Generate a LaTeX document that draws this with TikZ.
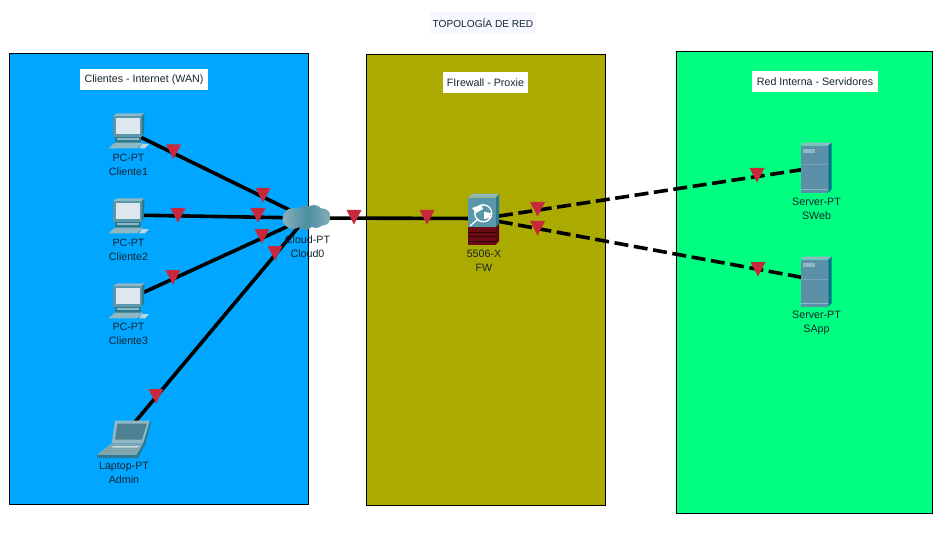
\documentclass[tikz,border=0pt]{standalone}
\usepackage{fontspec}
\setmainfont{Liberation Sans}
\definecolor{zoneblue}{HTML}{00A6FF}
\definecolor{zoneolive}{HTML}{ABAA00}
\definecolor{zonegreen}{HTML}{00FF80}
\definecolor{pduRed}{HTML}{C8283C}
\definecolor{txt}{HTML}{15252F}
\definecolor{devMid}{HTML}{5B97AB}
\definecolor{devDark}{HTML}{2D7A90}
\definecolor{devLight}{HTML}{8FB8C4}
\definecolor{srvFront}{HTML}{5B90A8}
\definecolor{srvSide}{HTML}{0E6C90}
\definecolor{brick}{HTML}{6E0A12}
\definecolor{screenTone}{HTML}{DCE8EE}
\tikzset{
  x=0.75pt,y=-0.75pt,
  zone/.style={draw=black,line width=0.6pt},
  zonelabel/.style={fill=white,font=\fontsize{8}{10}\selectfont,text=txt,inner sep=0pt,minimum height=15.75pt,anchor=center},
  devlabel/.style={font=\fontsize{8}{10.5}\selectfont,text=txt,align=center,inner sep=0pt,anchor=center},
  port/.style={inner sep=0pt,minimum size=0pt,outer sep=0pt},
  link/.style={line width=2.7pt,draw=black},
  dashlink/.style={line width=2.7pt,draw=black,dash pattern=on 10.5pt off 4.2pt,dash phase=2.6pt},
  pdu/.pic={\fill[pduRed] (-7.5,-7)--(7.5,-7)--(0,7.5)--cycle;},
  pcicon/.pic={
    \fill[devLight] (5.3,4)--(9,1.3)--(36.5,1.3)--(33.7,4)--cycle;
    \fill[devDark] (33.7,4)--(36.5,1.3)--(36,21)--(33.7,25)--cycle;
    \fill[devMid] (5.3,4) rectangle (33.7,25);
    \fill[screenTone] (7.8,6.2) rectangle (31.5,21.8);
    \fill[devDark] (7,25) rectangle (33,30.7);
    \fill[devLight] (9,26.3) rectangle (31,27.8);
    \fill[devLight] (0.3,36.3)--(7,30.7)--(35,30.7)--(29,36.3)--cycle;
    \fill[devLight!60!white] (31,36.3)--(34,32)--(41,32)--(37,36.3)--cycle;
  },
  srvicon/.pic={
    \fill[devLight] (0,3)--(2.3,0)--(30.7,0)--(27.3,3)--cycle;
    \fill[srvSide] (27.3,3)--(30.7,0)--(30.7,46.5)--(27.3,50)--cycle;
    \fill[srvFront] (0,3) rectangle (27.3,50);
    \fill[devLight] (2,6) rectangle (14,10);
    \draw[devLight,line width=0.5pt] (0,47) -- (27.3,47);
    \draw[devLight!50!srvFront,line width=0.3pt] (0,22) -- (27.3,22);
  },
}
\begin{document}
\begin{tikzpicture}
\useasboundingbox (0,0) rectangle (948,538);
\fill[white] (0,0) rectangle (948,538);
% zones
\path[zone,fill=zoneblue] (9.5,53.5) rectangle (308.5,504.5);
\path[zone,fill=zoneolive] (366.5,54.5) rectangle (605.5,505.5);
\path[zone,fill=zonegreen] (676.5,51.5) rectangle (932.5,513.5);
% title and zone labels
\node[fill=blue!3!white,font=\fontsize{7.6}{10}\selectfont,text=txt,inner sep=0pt,minimum width=79.5pt,minimum height=15.75pt] (title) at (483,23) {TOPOLOGÍA DE RED};
\node[zonelabel,minimum width=96pt] (zl1) at (144,79.5) {Clientes - Internet (WAN)};
\node[zonelabel,minimum width=63.75pt] (zl2) at (485.5,82.5) {FIrewall - Proxie};
\node[zonelabel,minimum width=94.5pt] (zl3) at (815,81.5) {Red Interna - Servidores};
% device anchors
\node[port] (pc1) at (127,130.5) {};
\node[port] (pc2) at (127,215) {};
\node[port] (pc3) at (127,300) {};
\node[port] (lap) at (130,428) {};
\node[port] (cloud) at (306,218) {};
\node[port] (fw) at (483,218.5) {};
\node[port] (srv1) at (816,167.5) {};
\node[port] (srv2) at (816,280) {};
% connectors
\draw[link] (pc1) -- (cloud);
\draw[link] (pc2) -- (cloud);
\draw[link] (pc3) -- (cloud);
\draw[link] (lap) -- (cloud);
\draw[link] (cloud) -- (fw);
\draw[dashlink] (fw) -- (srv1);
\draw[dashlink] (fw) -- (srv2);
% icons
\pic at (108,112) {pcicon};
\pic at (108,197) {pcicon};
\pic at (108,282) {pcicon};
% laptop
\begin{scope}[shift={(80,380)}]
\fill[devLight] (35,40.7)--(70,40.7)--(63.3,63.3)--(31.7,63.3)--cycle;
\fill[devDark] (70,40.7)--(71,43)--(65,65)--(63.3,63.3)--cycle;
\fill[devMid!85!black] (37.5,43.5)--(67,43.5)--(62,59.5)--(35,59.5)--cycle;
\fill[devLight!90!black] (31.7,63.3)--(63.3,63.3)--(56.7,75)--(16.7,75)--cycle;
\fill[devDark] (16.7,75)--(56.7,75)--(63.3,63.3)--(66,63.3)--(58,78)--(18,78)--cycle;
\fill[devLight!50!white] (33,66)--(60,66)--(57,67.5)--(32,67.5)--cycle;
\end{scope}
% cloud
\begin{scope}
\clip (293,218.5) circle (10.5) (305,215) circle (9.5) (314,214) circle (9) (322,217) circle (8.7) (305,221.5) circle (8.5) (316,220) circle (8);
\shade[left color=devLight!90!gray,right color=devLight!90!gray,middle color=devDark!85!white] (280,200) rectangle (334,234);
\end{scope}
% firewall
\fill[devLight] (468.3,197.7)--(472,194)--(499,194)--(495.7,197.7)--cycle;
\fill[devDark] (495.7,197.7)--(499,194)--(499,224)--(495.7,227.3)--cycle;
\fill[devMid] (468.3,197.7) rectangle (495.7,227.3);
\fill[brick] (468.3,227.3) rectangle (495.7,244.7);
\fill[brick!80!black] (495.7,227.3)--(499,224)--(499,241)--(495.7,244.7)--cycle;
\foreach \yy in {232,236.5,241}{\draw[black!60!brick,line width=0.3pt] (468.3,\yy) -- (495.7,\yy);}
\fill[white] (472,208)--(481,205)--(483,209)--(476,213)--cycle;
\fill[white] (484,212)--(491,213)--(490,218)--(484,219)--cycle;
\draw[white,line width=1pt] (483.3,213.3) circle (8.5);
\draw[white,line width=1pt] (477.5,219.5) -- (470,226);
% servers
\pic at (801,142.7) {srvicon};
\pic at (801,256.7) {srvicon};
% device labels
\node[devlabel] (lpc1) at (128.5,165) {PC-PT\\Cliente1};
\node[devlabel] (lpc2) at (128.5,250) {PC-PT\\Cliente2};
\node[devlabel] (lpc3) at (128.5,334) {PC-PT\\Cliente3};
\node[devlabel] (llap) at (124,473) {Laptop-PT\\Admin};
\node[devlabel] (lcloud) at (307.5,247) {Cloud-PT\\Cloud0};
\node[devlabel] (lfw) at (484,261) {5506-X\\FW};
\node[devlabel] (lsrv1) at (816.5,209) {Server-PT\\SWeb};
\node[devlabel] (lsrv2) at (816.5,323) {Server-PT\\SApp};
% PDU markers
\foreach \px/\py in {173.5/151.5,263/195,178/215,258/215,262/236,173/277,275/253,156/396,354/217,427/217,537.5/209,537.5/228,757/175,758/269}
  {\pic at (\px,\py) {pdu};}
\end{tikzpicture}
\end{document}
